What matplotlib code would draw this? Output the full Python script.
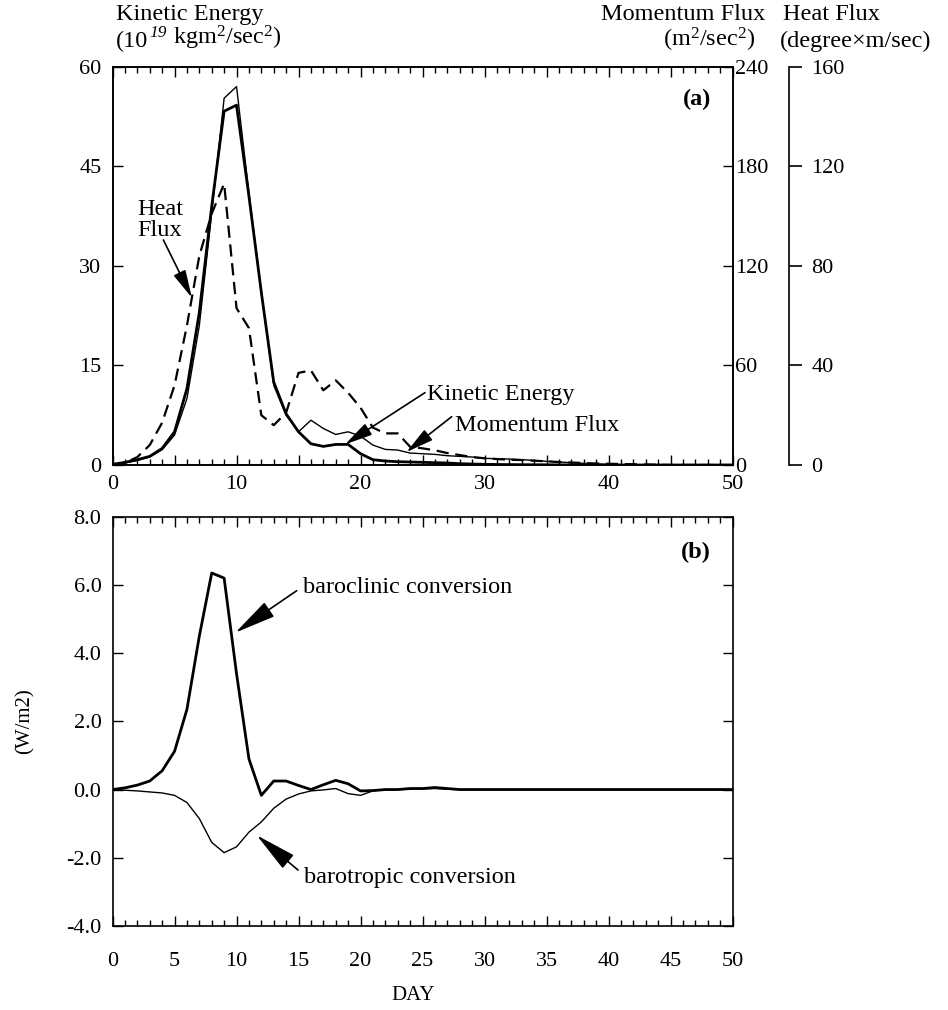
import matplotlib.pyplot as plt
from matplotlib.text import Annotation
from matplotlib.ticker import MultipleLocator, FuncFormatter
import numpy as np

plt.rcParams['font.family'] = 'Liberation Serif'
plt.rcParams['mathtext.fontset'] = 'custom'
plt.rcParams['mathtext.rm'] = 'Liberation Serif'
plt.rcParams['mathtext.it'] = 'Liberation Serif:italic'

days = np.arange(51)

# (a) kinetic energy [10^19 kg m2/s2], momentum flux [m2/s2], heat flux [degree m/s]
kinetic_energy = [0.1, 0.4, 0.8, 1.3, 2.5, 5.0, 11.5, 23.0, 39.0, 53.3,
                  54.2, 40.5, 26.0, 12.5, 7.7, 5.0, 3.2, 2.8, 3.1, 3.1,
                  1.7, 0.8, 0.6, 0.5, 0.45, 0.4, 0.35, 0.3, 0.2, 0.15,
                  0.1, 0.08, 0.06, 0.05, 0.04, 0.03, 0.02, 0.02, 0.01, 0.01,
                  0, 0, 0, 0, 0, 0, 0, 0, 0, 0, 0]
momentum_flux = [0.4, 1.2, 2.8, 4.8, 9.2, 18, 40, 84, 152, 221,
                 228, 164, 104, 48, 30, 20, 27, 22, 18.4, 20,
                 17.4, 12, 9.4, 9, 7.2, 6.8, 6.4, 5.6, 5.2, 4.8,
                 4.0, 3.8, 3.6, 3.2, 2.8, 2.2, 1.8, 1.4, 1.0, 0.6,
                 0.4, 0.2, 0.1, 0, 0, 0, 0, 0, 0, 0, 0]
heat_flux = [0, 0.8, 3.2, 8, 17, 32, 56, 84, 101, 113,
             63, 55, 20, 16, 21, 37, 38, 30, 34, 29,
             23, 15, 12.7, 12.7, 7.3, 6.7, 5.9, 4.8, 4.0, 3.2,
             2.7, 2.4, 2.1, 2.0, 1.7, 1.5, 1.2, 1.0, 0.8, 0.6,
             0.5, 0.4, 0.3, 0.2, 0.1, 0, 0, 0, 0, 0, 0]

# (b) energy conversions [W/m2]
baroclinic = [0, 0.05, 0.13, 0.25, 0.55, 1.12, 2.35, 4.5, 6.35, 6.2,
              3.4, 0.9, -0.17, 0.25, 0.25, 0.12, 0.0, 0.14, 0.27, 0.17,
              -0.04, -0.03, 0.0, 0.0, 0.03, 0.03, 0.06, 0.03, 0.0, 0,
              0, 0, 0, 0, 0, 0, 0, 0, 0, 0,
              0, 0, 0, 0, 0, 0, 0, 0, 0, 0, 0]
barotropic = [0, -0.02, -0.04, -0.07, -0.1, -0.17, -0.38, -0.85, -1.55, -1.85,
              -1.68, -1.25, -0.95, -0.55, -0.28, -0.13, -0.04, -0.01, 0.03, -0.12,
              -0.17, -0.04, 0.0, 0.0, 0.01, 0.02, 0.03, 0.01, 0, 0,
              0, 0, 0, 0, 0, 0, 0, 0, 0, 0,
              0, 0, 0, 0, 0, 0, 0, 0, 0, 0, 0]

TICK = 16
TXT = 17.5


def day_axis(ax, label_step, pad):
    ax.set_xlim(0, 50)
    ax.xaxis.set_major_locator(MultipleLocator(5))
    ax.xaxis.set_minor_locator(MultipleLocator(1))
    ax.xaxis.set_major_formatter(FuncFormatter(
        lambda v, p: '%d' % v if round(v) % label_step == 0 else ''))
    ax.tick_params(axis='x', which='both', direction='in', top=True,
                   bottom=True, width=1.0, labelsize=TICK, pad=pad)
    ax.tick_params(axis='x', which='major', length=7)
    ax.tick_params(axis='x', which='minor', length=4.5)
    for s in ax.spines.values():
        s.set_linewidth(1.2)


def pointer(ax, tip, tail, head_len, head_w):
    ax.annotate('', xy=tip, xytext=tail,
                arrowprops=dict(arrowstyle='-|>,head_length=%g,head_width=%g'
                                % (head_len, head_w),
                                color='black', lw=1.2, shrinkA=0, shrinkB=0,
                                mutation_scale=20))


fig = plt.figure(figsize=(9.48, 10.1), dpi=100)
ax_a = fig.add_axes([0.1187, 0.5396, 0.654, 0.3944])
ax_b = fig.add_axes([0.1187, 0.0832, 0.654, 0.4052])

# ---- panel (a)
ax_a.plot(days, kinetic_energy, color='black', lw=2.0)
ax_a.set_ylim(0, 60)
ax_a.yaxis.set_major_locator(MultipleLocator(15))
ax_a.tick_params(axis='y', direction='in', length=7, width=1.0,
                 labelsize=TICK, pad=8)
day_axis(ax_a, 10, 7)

ax_mom = ax_a.twinx()
ax_mom.plot(days, momentum_flux, color='black', lw=1.0)
ax_mom.set_ylim(0, 240)
ax_mom.yaxis.set_major_locator(MultipleLocator(60))
ax_mom.tick_params(axis='y', direction='in', length=7, width=1.0,
                   labelsize=TICK, pad=2)
for s in ax_mom.spines.values():
    s.set_linewidth(1.2)

ax_heat = ax_a.twinx()
ax_heat.plot(days, heat_flux, color='black', lw=1.6, dashes=(5.5, 3))
ax_heat.set_ylim(0, 160)
ax_heat.yaxis.set_major_locator(MultipleLocator(40))
for side in ('top', 'bottom', 'left'):
    ax_heat.spines[side].set_visible(False)
ax_heat.spines['right'].set_position(('axes', 1.0916))
ax_heat.spines['right'].set_linewidth(1.2)
ax_heat.tick_params(axis='y', direction='out', length=9, width=1.2,
                    labelsize=TICK, pad=7)

ax_a.text(0.965, 0.904, '(a)', transform=ax_a.transAxes, ha='right',
          va='baseline', fontsize=TXT, fontweight='bold')

ax_a.text(2.0, 36.9, 'Heat\nFlux', ha='left', va='center', fontsize=TXT,
          linespacing=0.95)
tip = 6.4
pointer(ax_heat, (tip, np.interp(tip, days, heat_flux)),
        (4.1, 33.9 * 160 / 60), 0.85, 0.2)

ax_a.text(25.4, 10.6, 'Kinetic Energy', ha='left', va='center', fontsize=TXT)
tip = 18.75
pointer(ax_a, (tip, np.interp(tip, days, kinetic_energy)), (25.2, 10.9),
        0.85, 0.2)

ax_a.text(27.6, 5.9, 'Momentum Flux', ha='left', va='center', fontsize=TXT)
tip = 23.7
pointer(ax_mom, (tip, np.interp(tip, days, momentum_flux)), (27.35, 29.1),
        0.85, 0.2)

# ---- panel (b)
ax_b.plot(days, baroclinic, color='black', lw=2.0)
ax_b.plot(days, barotropic, color='black', lw=1.0)
ax_b.set_ylim(-4, 8)
ax_b.yaxis.set_major_locator(MultipleLocator(2))
ax_b.yaxis.set_major_formatter(FuncFormatter(lambda v, p: '%.1f' % v))
ax_b.tick_params(axis='y', direction='in', left=True, right=True, length=7,
                 width=1.0, labelsize=TICK, pad=8)
day_axis(ax_b, 5, 19)

ax_b.text(0.965, 0.899, '(b)', transform=ax_b.transAxes, ha='right',
          va='baseline', fontsize=TXT, fontweight='bold')
ax_b.text(-0.141, 0.5, '(W/m2)', transform=ax_b.transAxes, rotation=90,
          ha='center', va='center', fontsize=15)
ax_b.text(0.485, -0.169, 'DAY', transform=ax_b.transAxes, ha='center',
          va='center', fontsize=15)

ax_b.text(15.4, 5.92, 'baroclinic conversion', ha='left', va='center',
          fontsize=TXT)
pointer(ax_b, (9.9, 4.6), (14.85, 5.83), 1.3, 0.27)
ax_b.text(15.45, -2.57, 'barotropic conversion', ha='left', va='center',
          fontsize=TXT)
pointer(ax_b, (11.63, -1.34), (14.96, -2.36), 1.3, 0.27)

# ---- axis headers
fig.text(116 / 948, 1 - 20 / 1010, 'Kinetic Energy', ha='left',
         va='baseline', fontsize=TXT)
unit_a = fig.text(116 / 948, 1 - 46.7 / 1010, '(10', ha='left',
                  va='baseline', fontsize=TXT)
# italic power of ten, raised above the baseline
exp_txt = Annotation('19', xy=(1, 0), xycoords=unit_a, xytext=(1, 10.5),
                     textcoords='offset points', ha='left', va='baseline',
                     fontsize=12.5, style='italic', annotation_clip=False)
fig.add_artist(exp_txt)
rest = Annotation(r' kgm$^2$/sec$^2$)', xy=(1, 0), xycoords=(exp_txt, unit_a),
                  xytext=(0, 0), textcoords='offset points', ha='left',
                  va='bottom', fontsize=TXT, annotation_clip=False)
fig.add_artist(rest)
fig.text(765 / 948, 1 - 20 / 1010, 'Momentum Flux', ha='right',
         va='baseline', fontsize=TXT)
fig.text(755 / 948, 1 - 46.7 / 1010, r'(m$^2$/sec$^2$)', ha='right',
         va='baseline', fontsize=TXT)
fig.text(783 / 948, 1 - 20 / 1010, 'Heat Flux', ha='left', va='baseline',
         fontsize=TXT)
fig.text(780 / 948, 1 - 46.7 / 1010, '(degree×m/sec)', ha='left',
         va='baseline', fontsize=TXT)

fig.savefig('out.png', dpi=100)
